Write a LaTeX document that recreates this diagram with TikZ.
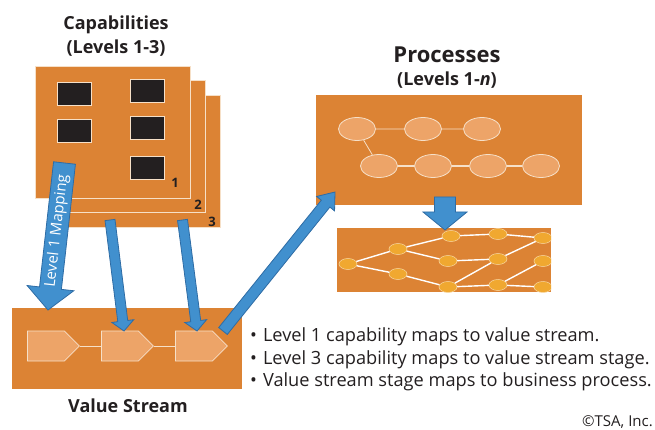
\documentclass[tikz,border=0pt]{standalone}
\usepackage{fontspec}
\setmainfont{Open Sans}
\usetikzlibrary{calc,positioning,shapes.geometric,shapes.symbols}

\definecolor{sheetorange}{RGB}{220,131,52}
\definecolor{stagefill}{RGB}{237,164,104}
\definecolor{netnode}{RGB}{240,168,48}
\definecolor{arrowblue}{RGB}{65,144,206}
\definecolor{arrowedge}{RGB}{46,108,165}
\definecolor{boxblack}{RGB}{35,31,32}
\definecolor{rimcream}{RGB}{246,224,200}
\definecolor{textgray}{RGB}{35,31,32}

\tikzset{
  sheet/.style={draw=rimcream,fill=sheetorange,line width=0.8pt,minimum width=155pt,minimum height=132pt},
  plate/.style={fill=sheetorange,inner sep=0pt},
  capbox/.style={draw=rimcream,fill=boxblack,line width=0.8pt,minimum width=34pt,minimum height=23pt,inner sep=0pt},
  stage/.style={signal,signal to=east,signal pointer angle=90,draw=rimcream,fill=stagefill,line width=0.8pt,minimum width=52pt,minimum height=30pt,inner sep=0pt},
  procnode/.style={ellipse,draw=rimcream,fill=stagefill,line width=0.8pt,minimum width=37pt,minimum height=23pt,inner sep=0pt},
  netdot/.style={ellipse,fill=netnode,draw=white!55!netnode,line width=0.5pt,minimum width=18pt,minimum height=11pt,inner sep=0pt},
  link/.style={draw=rimcream,line width=0.8pt},
  netlink/.style={draw=white,line width=1.4pt},
  blockarrow/.style={draw=arrowedge,fill=arrowblue,line width=0.8pt},
  title/.style={font=\bfseries\fontsize{18}{21}\selectfont,text=textgray},
  num/.style={font=\bfseries\fontsize{13}{15}\selectfont,text=textgray,inner sep=0pt},
}

% block arrow: tail, tip, half shaft, half head, head length
\newcommand{\blockarr}[5]{%
  \coordinate (ba-neck) at ($(#2)!#5!(#1)$);
  \path[blockarrow] ($(#1)!#3!90:(#2)$) -- ($(ba-neck)!#3!90:(#2)$) -- ($(ba-neck)!#4!90:(#2)$) -- (#2)
    -- ($(ba-neck)!#4!-90:(#2)$) -- ($(ba-neck)!#3!-90:(#2)$) -- ($(#1)!#3!-90:(#2)$) -- cycle;
}

\begin{document}
\begin{tikzpicture}[x=1pt,y=-1pt]
\useasboundingbox (0,0) rectangle (655,430);

% capabilities
\node[title] (captitle) at (116,25) {Capabilities};
\node[title] (caplevels) at (116,48) {(Levels 1-3)};
\node[sheet] (sheet3) at (142.5,161.5) {};
\node[sheet] (sheet2) at (127.5,146.5) {};
\node[sheet] (sheet1) at (112.5,132) {};
\node[capbox] (cap1) at (74,93.5) {};
\node[capbox] (cap2) at (74,130.5) {};
\node[capbox] (cap3) at (147.5,91) {};
\node[capbox] (cap4) at (147.5,127.5) {};
\node[capbox] (cap5) at (147.5,167.5) {};
\node[num] (lvl1) at (175,183) {1};
\node[num] (lvl2) at (198,205) {2};
\node[num] (lvl3) at (212,222) {3};

% processes
\node[title,font=\bfseries\fontsize{22}{26}\selectfont] (proctitle) at (447,55) {Processes};
\node[title] (proclevels) at (447,80) {(Levels 1-\textit{n})};
\node[plate,minimum width=266pt,minimum height=110pt] (procbox) at (449,150) {};
\node[procnode] (p1) at (357,129) {};
\node[procnode] (p2) at (423,129) {};
\node[procnode] (p3) at (482,129) {};
\node[procnode] (p4) at (379,166) {};
\node[procnode] (p5) at (433,166) {};
\node[procnode] (p6) at (488,166) {};
\node[procnode] (p7) at (541,166) {};
\draw[link] (p1) -- (p2) (p2) -- (p3) (p1) -- (p4);
\draw[link,line width=1.5pt] (p4) -- (p5) (p5) -- (p6) (p6) -- (p7);

% detailed process network
\node[plate,minimum width=214pt,minimum height=64pt] (netbox) at (444,260) {};
\begin{scope}
\clip (netbox.north west) rectangle (netbox.south east);
\node[netdot] (d0) at (348,264) {};
\node[netdot] (d1) at (398,249) {};
\node[netdot] (d2) at (398,274) {};
\node[netdot] (d3) at (451,236) {};
\node[netdot] (d4) at (448,261) {};
\node[netdot] (d5) at (448,287) {};
\node[netdot] (d6) at (498,234) {};
\node[netdot] (d7) at (498,259) {};
\node[netdot] (d8) at (498,285) {};
\node[netdot] (d9) at (543,238) {};
\node[netdot] (d10) at (543,261) {};
\node[netdot] (d11) at (543,287) {};
\foreach \a/\b in {d0/d1,d0/d2,d1/d3,d1/d4,d2/d5,d3/d6,d4/d7,d5/d8,d5/d7,d6/d9,d7/d9,d8/d10,d8/d11}
  \draw[netlink] (\a) -- (\b);
\end{scope}

% value stream
\node[plate,minimum width=230pt,minimum height=81pt] (vsbox) at (127,348.5) {};
\node[stage,anchor=west] (vs1) at (27,346) {};
\node[stage,anchor=west] (vs2) at (101,346) {};
\node[stage,anchor=west] (vs3) at (175,346) {};
\draw[link] (vs1) -- (vs2) (vs2) -- (vs3);
\node[title] (vstitle) at (128,406) {Value Stream};

% mapping arrows
\coordinate (maptail) at (64.5,163);
\coordinate (maptip) at (48,310);
\coordinate (l3tailA) at (110,220);
\coordinate (l3tipA) at (124,331);
\coordinate (l3tailB) at (182.5,220);
\coordinate (l3tipB) at (197,331);
\coordinate (bptail) at (223,331);
\coordinate (bptip) at (335,192);
\coordinate (drilltail) at (445,197);
\coordinate (drilltip) at (445,230);
\blockarr{maptail}{maptip}{11pt}{23.5pt}{22pt}
\blockarr{l3tailA}{l3tipA}{5pt}{11pt}{10pt}
\blockarr{l3tailB}{l3tipB}{5pt}{11pt}{10pt}
\blockarr{bptail}{bptip}{5.5pt}{11.5pt}{15pt}
\blockarr{drilltail}{drilltip}{10.5pt}{22pt}{18pt}
\node[rotate=83.6,text=white,inner sep=1pt,font=\fontsize{15}{17}\selectfont] (maplabel) at (57,231) {Level 1 Mapping};

% notes
\node[anchor=base west,align=left,inner sep=0pt,text=textgray,font=\fontsize{18.2}{22.5}\selectfont] (notes) at (250,386.5)
  {\textbullet\hspace{6pt}Level 1 capability maps to value stream.\\
   \textbullet\hspace{6pt}Level 3 capability maps to value stream stage.\\
   \textbullet\hspace{6pt}Value stream stage maps to business process.};
\node[anchor=base east,inner sep=0pt,text=textgray,font=\fontsize{15}{17}\selectfont] (copyr) at (653,426) {\textcopyright TSA, Inc.};
\end{tikzpicture}
\end{document}
